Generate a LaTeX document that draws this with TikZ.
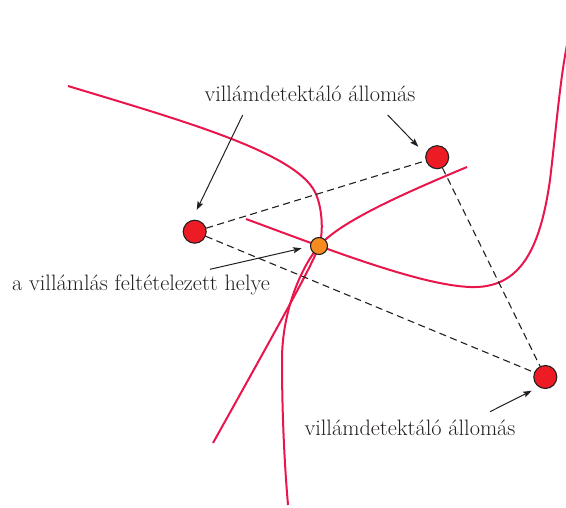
\documentclass[tikz,border=0pt]{standalone}
\usepackage{fontspec}
\usetikzlibrary{arrows.meta}
\definecolor{hyp}{RGB}{233,22,76}
\definecolor{stred}{RGB}{237,28,36}
\definecolor{storange}{RGB}{246,139,31}
\definecolor{ink}{RGB}{35,31,32}
\begin{document}
\begin{tikzpicture}[x=1pt,y=-1pt,
  hyperbola/.style={draw=hyp,line width=2pt},
  station/.style={circle,draw=ink,fill=stred,line width=1.1pt,minimum size=23pt,inner sep=0pt},
  source/.style={circle,draw=ink,fill=storange,line width=1.1pt,minimum size=17pt,inner sep=0pt},
  basedash/.style={draw=ink,line width=1.1pt,dash pattern=on 7pt off 4.5pt},
  pointer/.style={draw=ink,line width=1pt,-{Stealth[length=8.5pt,width=6pt,inset=1.5pt]}},
  annot/.style={text=ink,font=\fontsize{22.3}{26}\selectfont,inner sep=0pt,anchor=base}]
\useasboundingbox (0,0) rectangle (566,507);
% hyperbola branches
\draw[hyperbola] (68,86) .. controls (180,120) and (295,152) .. (315,192)
  .. controls (322,206) and (324,232) .. (319,246)
  .. controls (312,265) and (290,305) .. (213,443);
\draw[hyperbola] (467,167) .. controls (400,195) and (340,222) .. (319,246)
  .. controls (302,266) and (282,310) .. (282,360)
  .. controls (282,420) and (285,470) .. (288,505);
\draw[hyperbola] (246,219) .. controls (330,250) and (420,285) .. (470,287)
  .. controls (520,289) and (540,250) .. (550,180)
  .. controls (556,130) and (560,80) .. (567,45);
% stations
\node[station] (A) at (194.7,231.7) {};
\node[station] (B) at (437.2,157.2) {};
\node[station] (C) at (545.3,377) {};
\node[source] (O) at (319,246) {};
% baselines
\draw[basedash] (A) -- (B);
\draw[basedash] (A) -- (C);
\draw[basedash] (B) -- (C);
% labels
\node[annot] (l1) at (310,101.7) {villámdetektáló állomás};
\node[annot] (l2) at (141,290) {a villámlás feltételezett helye};
\node[annot] (l3) at (410,435) {villámdetektáló állomás};
% pointers
\coordinate (a1s) at (242.7,115); \coordinate (a1e) at (196.7,210);
\coordinate (a2s) at (387.7,115); \coordinate (a2e) at (418.3,146.7);
\coordinate (a3s) at (210,269.3); \coordinate (a3e) at (301.7,248.3);
\coordinate (a4s) at (490,411.7); \coordinate (a4e) at (531.7,390.7);
\draw[pointer] (a1s) -- (a1e);
\draw[pointer] (a2s) -- (a2e);
\draw[pointer] (a3s) -- (a3e);
\draw[pointer] (a4s) -- (a4e);
\end{tikzpicture}
\end{document}
